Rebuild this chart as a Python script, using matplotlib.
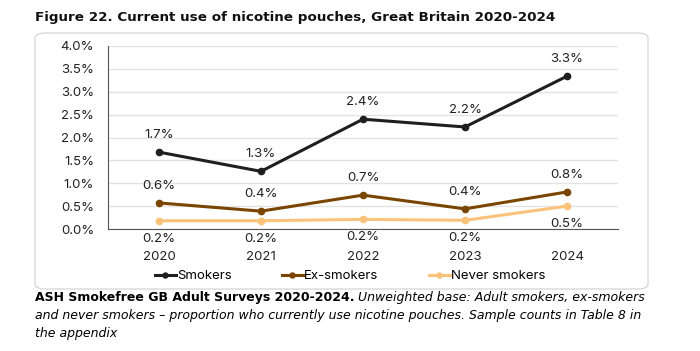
import matplotlib
matplotlib.use("Agg")
import matplotlib.pyplot as plt
from matplotlib.patches import FancyBboxPatch

years = ["2020", "2021", "2022", "2023", "2024"]
smokers = [1.68, 1.26, 2.40, 2.23, 3.34]
ex_smokers = [0.57, 0.39, 0.74, 0.44, 0.81]
never_smokers = [0.18, 0.18, 0.21, 0.19, 0.50]
smokers_lab = ["1.7%", "1.3%", "2.4%", "2.2%", "3.3%"]
ex_lab = ["0.6%", "0.4%", "0.7%", "0.4%", "0.8%"]
never_lab = ["0.2%", "0.2%", "0.2%", "0.2%", "0.5%"]

plt.rcParams['font.family'] = ['Inter', 'DejaVu Sans']

fig = plt.figure(figsize=(7, 3.51), dpi=100)

# cadre arrondi
box = FancyBboxPatch((35 / 700, 1 - 289 / 351), 613 / 700, 256 / 351,
                     boxstyle="round,pad=0,rounding_size=0.015",
                     transform=fig.transFigure, facecolor="none",
                     edgecolor="#d9d9d9", linewidth=1.0, zorder=-1)
fig.patches.append(box)

ax = fig.add_axes([108 / 700, 1 - 229 / 351, 510 / 700, 183 / 351])
ax.set_facecolor("none")
x = [i + 0.5 for i in range(len(years))]

series = [
    (smokers, smokers_lab, "#1f1f1f", "Smokers", 12.5),
    (ex_smokers, ex_lab, "#7a4500", "Ex-smokers", 12.5),
    (never_smokers, never_lab, "#fbc27a", "Never smokers", -13),
]
for vals, labs, col, name, off in series:
    ax.plot(x, vals, color=col, lw=2.2, marker="o", ms=4.5, label=name, zorder=3)
    for xi, v, t in zip(x, vals, labs):
        ax.annotate(t, (xi, v), xytext=(0, off), textcoords="offset points",
                    ha="center", va="center", fontsize=9.5, color="#222222")

ax.set_xlim(0, 5)
ax.set_ylim(0, 4.0)
ax.set_yticks([i * 0.5 for i in range(9)])
ax.set_yticklabels([f"{i * 0.5:.1f}%" for i in range(9)], fontsize=9.5, color="#222222")
ax.set_xticks(x)
ax.set_xticklabels(years, fontsize=9.5, color="#222222")
ax.tick_params(axis="y", length=0, pad=10)
ax.tick_params(axis="x", length=0, pad=16)
ax.grid(axis="y", color="#e3e3e3", lw=1.0)
ax.set_axisbelow(True)
for s in ["top", "right"]:
    ax.spines[s].set_visible(False)
ax.spines["left"].set_color("#555555")
ax.spines["bottom"].set_color("#555555")

fig.legend(loc="center", bbox_to_anchor=(350 / 700, 1 - 276 / 351), ncol=3,
           frameon=False, fontsize=9.5, handlelength=1.6, handletextpad=0.1,
           columnspacing=3.8, markerscale=0.8)

cap_font = ["Liberation Sans Narrow", "DejaVu Sans"]

# titre
fig.text(35 / 700, 1 - 17 / 351, "Figure 22. Current use of nicotine pouches, Great Britain 2020-2024",
         fontsize=9.7, fontweight="bold", family=cap_font,
         ha="left", va="center", color="#111111")

# légende sous le graphique
fig.canvas.draw()
r = fig.canvas.get_renderer()
t1 = fig.text(35 / 700, 1 - 298 / 351, "ASH Smokefree GB Adult Surveys 2020-2024.",
              fontsize=9, fontweight="bold", family=cap_font, ha="left", va="center")
bb = t1.get_window_extent(renderer=r)
fig.text(bb.x1 / fig.bbox.width + 4 / 700, 1 - 298 / 351,
         "Unweighted base: Adult smokers, ex-smokers",
         fontsize=9, style="italic", family=cap_font, ha="left", va="center")
fig.text(35 / 700, 1 - 316 / 351,
         "and never smokers \u2013 proportion who currently use nicotine pouches. Sample counts in Table 8 in",
         fontsize=9, style="italic", family=cap_font, ha="left", va="center")
fig.text(35 / 700, 1 - 333 / 351, "the appendix",
         fontsize=9, style="italic", family=cap_font, ha="left", va="center")

fig.savefig("out.png", dpi=100)
